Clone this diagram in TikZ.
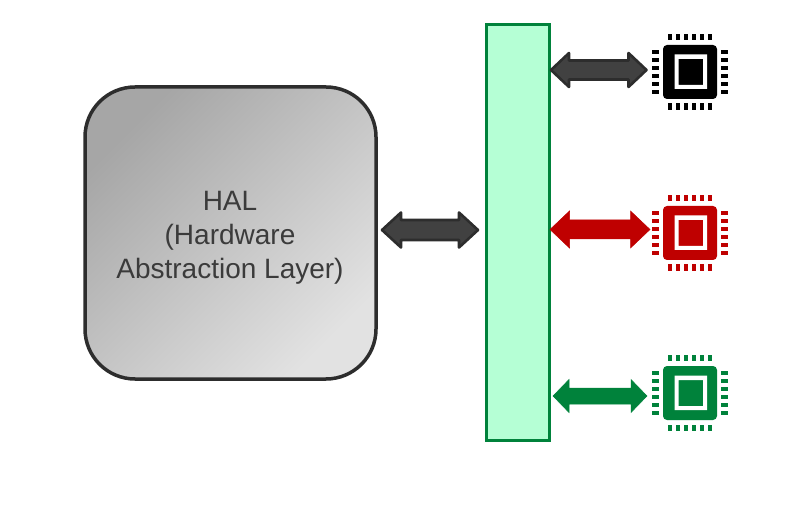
\documentclass[tikz,border=0pt]{standalone}
\usepackage{fontspec}
\setmainfont{Liberation Sans}
\definecolor{halline}{HTML}{2D2D2D}
\definecolor{halink}{HTML}{3B3B3B}
\definecolor{arrowfill}{HTML}{414141}
\definecolor{busfill}{HTML}{B5FFD5}
\definecolor{cgreen}{HTML}{00823B}
\definecolor{cred}{HTML}{BF0000}
\definecolor{halA}{HTML}{A6A6A6}
\definecolor{halB}{HTML}{E2E2E2}
\tikzset{
  halbox/.style={draw=halline,line width=3.5pt,rounded corners=50pt,minimum width=291pt,minimum height=292pt,inner sep=0pt,
    shading=axis,left color=halA,right color=halB,shading angle=45},
  halcap/.style={text=halink,align=center,font=\fontsize{28}{34}\selectfont,inner sep=0pt},
  busbox/.style={draw=cgreen,line width=3pt,fill=busfill,minimum width=63pt,minimum height=416pt,inner sep=0pt},
  darrow/.style={draw=halline,fill=arrowfill,line width=2.6pt,line join=round},
  redarrow/.style={fill=cred,draw=cred,line width=.5pt},
  greenarrow/.style={fill=cgreen,draw=cgreen,line width=.5pt}
}
% #1 style, #2 left end, #3 right end, #4 y, #5 head half, #6 shaft half, #7 head length
\newcommand{\blockarrow}[7]{%
  \path[#1] (#2,#4) -- ++(#7,-#5) -- ++(0,#5-#6) -- (#3-#7,#4-#6) -- ++(0,#6-#5) -- (#3,#4)
    -- ++(-#7,#5) -- ++(0,#6-#5) -- (#2+#7,#4+#6) -- ++(0,#5-#6) -- cycle;}
% #1 name, #2 colour, #3 cy
\newcommand{\chipicon}[3]{%
  \node[fill=#2,rounded corners=4pt,minimum size=54pt,inner sep=0pt] (#1) at (690,#3) {};
  \fill[white,even odd rule] (674.5,#3-17.5) rectangle (707,#3+17) (678.5,#3-13) rectangle (703,#3+13);
  \foreach \k in {0,...,5}{
    \fill[#2] (668+\k*8,#3-38) rectangle ++(4.2,6.4);
    \fill[#2] (668+\k*8,#3+31.5) rectangle ++(4.2,6.7);
    \fill[#2] (651.7,#3-22.2+\k*8) rectangle ++(7,4.2);
    \fill[#2] (721,#3-22.2+\k*8) rectangle ++(7.2,4.2);
  }}
\begin{document}
\begin{tikzpicture}[x=1pt,y=-1pt]
\useasboundingbox (0,0) rectangle (806,529);
\node[halbox] (hal) at (230.5,233) {};
\node[halcap] (halt) at (230,237.5) {HAL\\(Hardware\\Abstraction Layer)};
\node[busbox] (bus) at (518,232.5) {};
\chipicon{chipa}{black}{72}
\chipicon{chipb}{cred}{233}
\chipicon{chipc}{cgreen}{393}
\blockarrow{darrow}{382}{478}{230}{17.5}{10}{19}
\blockarrow{darrow}{551}{646.5}{70}{17}{9.5}{18}
\blockarrow{redarrow}{550}{650}{229.5}{18.5}{9.5}{19.5}
\blockarrow{greenarrow}{553}{647}{396}{16.5}{8}{16}
\end{tikzpicture}
\end{document}
